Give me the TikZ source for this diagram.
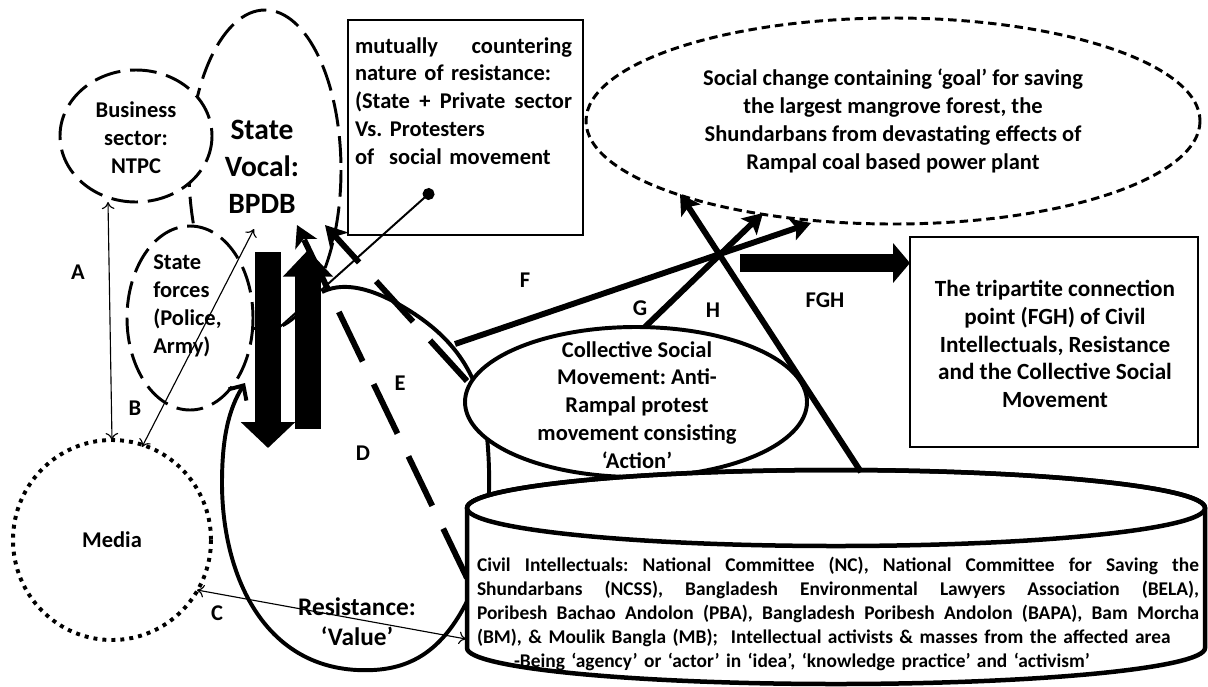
\documentclass[tikz,border=0pt]{standalone}
\usepackage{fontspec}
\setmainfont{Carlito}
\usepackage{tikz}
\usetikzlibrary{arrows.meta}

\newdimen\pxu \pxu=0.025cm
\newcommand{\fsmid}{\fontsize{16}{19.8}\selectfont\bfseries\frenchspacing}
\newcommand{\fsbig}{\fontsize{21}{26.2}\selectfont\bfseries}
\newcommand{\fsres}{\fontsize{18}{21.3}\selectfont\bfseries}
\newcommand{\fssmall}{\fontsize{13.8}{17}\selectfont\bfseries\frenchspacing}
\newcommand{\spreadline}[2]{\leavevmode\hbox to #1\pxu{\spaceskip=0.23em plus 1fil\xspaceskip=0.23em plus 1fil\relax #2}}

\begin{document}
\begin{tikzpicture}[x=0.025cm,y=-0.025cm,
    txt/.style={font=\fsmid,inner sep=0pt,align=center},
    ringdash/.style={line width=2.1pt,dash pattern=on 19pt off 7pt},
    ringdot/.style={line width=2.8pt,dash pattern=on 2.8pt off 3.6pt},
    goaldash/.style={line width=2.1pt,dash pattern=on 6pt off 3.5pt},
    boxline/.style={line width=2.1pt},
    bodyline/.style={line width=2.8pt},
    dashbar/.style={line width=4.2pt,dash pattern=on 39pt off 18pt,-{Stealth[length=15pt,width=17pt,inset=4pt]}},
    linkarrow/.style={line width=4.2pt,-{Stealth[length=14pt,width=16pt,inset=3pt]}},
    thinarrow/.style={line width=0.8pt,{To[length=5pt,width=9pt]}-{To[length=5pt,width=9pt]}}]
  \useasboundingbox (0,0) rectangle (1208,686);

  % centres of the shapes
  \coordinate (bpdb) at (265,170);
  \coordinate (busi) at (136,136);
  \coordinate (forces) at (190,318);
  \coordinate (media) at (112,540);
  \coordinate (goal) at (893,121);
  \coordinate (csm) at (636,402);

  % state side
  \draw[ringdash] (bpdb) ellipse [x radius=76, y radius=160];
  \draw[ringdash,fill=white] (busi) ellipse [x radius=76, y radius=66];
  \draw[ringdash,fill=white] (forces) ellipse [x radius=63, y radius=92];
  \draw[ringdot] (media) ellipse [x radius=99, y radius=100];
  \draw[boxline] (348,20) rectangle (583,235);
  \draw[boxline] (910,237) rectangle (1198,447);
  \draw[goaldash] (goal) ellipse [x radius=307, y radius=103];

  % resistance loop
  \coordinate (resstart) at (322,292);
  \coordinate (resend) at (245,383);
  \draw[line width=2.8pt,-{Straight Barb[length=8pt,width=15pt]}] (resstart)
    .. controls (340,283) and (365,285) .. (400,305)
    .. controls (440,328) and (475,360) .. (485,420)
    .. controls (492,470) and (492,540) .. (470,595)
    .. controls (440,660) and (400,672) .. (357,670)
    .. controls (260,665) and (222,570) .. (222,483)
    .. controls (222,440) and (228,410) .. (resend);

  % line with the dot
  \coordinate (dotend) at (262,343);
  \coordinate (dot) at (433,190);
  \draw[line width=1.4pt,-{Circle[length=8.5pt]}] (dotend) -- (dot);

  % D and E
  \coordinate (dstart) at (467,578);
  \coordinate (dtip) at (297,225);
  \coordinate (estart) at (467,381);
  \coordinate (etip) at (325,225);
  \draw[dashbar] (dstart) -- (dtip);
  \draw[dashbar] (estart) -- (etip);

  % collective movement and civil intellectuals
  \draw[bodyline,fill=white] (csm) ellipse [x radius=171, y radius=75];
  \draw[line width=3.2pt,fill=white] (467,508) -- (467,648)
    arc [start angle=180, end angle=0, x radius=369, y radius=36]
    -- (1205,508) arc [start angle=0, end angle=-180, x radius=369, y radius=38] -- cycle;
  \draw[line width=3.2pt] (836,508) ellipse [x radius=369, y radius=38];

  % block arrows
  \coordinate (downtop) at (268,252);
  \coordinate (downtip) at (268,448);
  \coordinate (upfoot) at (308,429);
  \coordinate (uptip) at (308,250);
  \draw[line width=19.1pt,-{Triangle[length=18.4pt,width=37.6pt]}] (downtop) -- (downtip);
  \draw[line width=19.1pt,-{Triangle[length=19pt,width=34.7pt]}] (upfoot) -- (uptip);

  % F, G, H
  \coordinate (fstart) at (455,344);
  \coordinate (ftip) at (811,223);
  \coordinate (gstart) at (645,327);
  \coordinate (gtip) at (763,213);
  \coordinate (hstart) at (861,472);
  \coordinate (htip) at (680,194);
  \draw[linkarrow] (fstart) -- (ftip);
  \draw[linkarrow] (gstart) -- (gtip);
  \draw[linkarrow] (hstart) -- (htip);
  \coordinate (fghfoot) at (740,263);
  \coordinate (fghtip) at (910,263);
  \draw[line width=12.5pt,-{Triangle[length=12pt,width=27.6pt]}] (fghfoot) -- (fghtip);

  % media links
  \coordinate (abus) at (108,202);
  \coordinate (amed) at (112,440);
  \coordinate (bmed) at (142,447);
  \coordinate (bbp) at (254,229);
  \coordinate (cmed) at (197,590);
  \coordinate (ccyl) at (466,639);

  % texts
  \node[txt] (busitext) at (136,138) {Business\\sector:\\NTPC};
  \node[txt,font=\fsbig] (bpdbtext) at (262,167) {State\\Vocal:\\BPDB};
  \node[txt,align=left,anchor=west] (forcestext) at (153,306) {State\\forces\\(Police,\\Army)};
  \node[txt] (mediatext) at (media) {Media};
  \node[txt,align=left,text width=217\pxu] (mutual) at (463.5,101)
    {\spreadline{217}{mutually countering}\\nature of resistance:\\
     \spreadline{217}{(State + Private sector}\\Vs. Protesters\\of~ social movement};
  \node[txt] (goaltext) at (893,121) {Social change containing `goal' for saving\\
    the largest mangrove forest, the\\Shundarbans from devastating effects of\\
    Rampal coal based power plant};
  \node[txt] (csmtext) at (637,405) {Collective Social\\Movement: Anti-\\Rampal protest\\
    movement consisting\\`Action'};
  \node[txt,font=\fontsize{16.5}{19.8}\selectfont\bfseries] (tritext) at (1055,344)
    {The tripartite connection\\point (FGH) of Civil\\
    Intellectuals, Resistance\\and the Collective Social\\Movement};
  \node[txt,font=\fsres] (restext) at (357,622) {Resistance:\\`Value'};
  \node[txt,font=\fssmall,align=left,text width=722\pxu] (civil) at (838,614)
    {\spreadline{722}{Civil Intellectuals: National Committee (NC), National Committee for Saving the}\\
     \spreadline{722}{Shundarbans (NCSS), Bangladesh Environmental Lawyers Association (BELA),}\\
     \spreadline{722}{Poribesh Bachao Andolon (PBA), Bangladesh Poribesh Andolon (BAPA), Bam Morcha}\\
     (BM), \& Moulik Bangla (MB);~ Intellectual activists \& masses from the affected area\\
     \hspace*{37\pxu}-Being `agency' or `actor' in `idea', `knowledge practice' and `activism'};

  \draw[thinarrow] (abus) -- (amed);
  \draw[thinarrow] (bmed) -- (bbp);
  \draw[thinarrow] (cmed) -- (ccyl);

  \node[txt] (la) at (78,272) {A};
  \node[txt] (lb) at (135,408) {B};
  \node[txt] (lc) at (217,613) {C};
  \node[txt] (ld) at (363,453) {D};
  \node[txt] (le) at (400,383) {E};
  \node[txt] (lf) at (525,280) {F};
  \node[txt] (lg) at (640,308) {G};
  \node[txt] (lh) at (713,310) {H};
  \node[txt] (lfgh) at (825,300) {FGH};
\end{tikzpicture}
\end{document}
